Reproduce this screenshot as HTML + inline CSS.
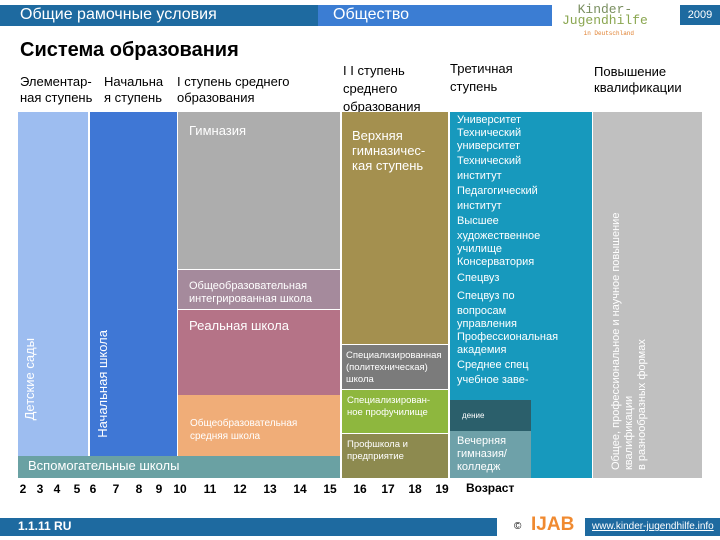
<!DOCTYPE html>
<html><head><meta charset="utf-8"><style>
body{margin:0;width:720px;height:540px;position:relative;overflow:hidden;background:#fff;font-family:"Liberation Sans","DejaVu Sans",sans-serif}
div{position:absolute;box-sizing:border-box}
.w{color:#fff}
.t{font-size:11px;line-height:13px}
.v{writing-mode:vertical-rl;transform:rotate(180deg)}
</style></head><body>
<div style="left:0;top:5px;width:318px;height:21px;background:#1e6aa0"></div>
<div class="w" style="left:20px;top:6px;font-size:16px">Общие рамочные условия</div>
<div style="left:318px;top:5px;width:234px;height:21px;background:#3b7dd3"></div>
<div class="w" style="left:333px;top:6px;font-size:16px">Общество</div>
<div style="left:562px;top:4px;font-family:'Liberation Mono',monospace;font-size:13px;line-height:11px;color:#7a8f60">&nbsp;&nbsp;Kinder-<br><span style="color:#8aa650">Jugendhilfe</span><br><span style="font-size:6px;color:#e08030">&nbsp;&nbsp;&nbsp;&nbsp;&nbsp;&nbsp;in Deutschland</span></div>
<div class="w" style="left:680px;top:5px;width:40px;height:20px;background:#1e6aa0;font-size:11px;text-align:center;line-height:20px">2009</div>
<div style="left:20px;top:39px;font-size:20px;font-weight:bold">Система образования</div>
<div style="left:20px;top:74px;font-size:13px;line-height:16px">Элементар-<br>ная ступень</div>
<div style="left:104px;top:74px;font-size:13px;line-height:16px">Начальна<br>я ступень</div>
<div style="left:177px;top:74px;font-size:13px;line-height:16px">I ступень среднего<br>образования</div>
<div style="left:343px;top:62px;font-size:13px;line-height:18px">I I ступень<br>среднего<br>образования</div>
<div style="left:450px;top:60px;font-size:13px;line-height:18px">Третичная<br>ступень</div>
<div style="left:594px;top:64px;font-size:13px;line-height:16px">Повышение<br>квалификации</div>

<div style="left:18px;top:112px;width:70px;height:344px;background:#9dbdf0"></div>
<div class="w v" style="left:22px;top:338px;font-size:13px">Детские сады</div>
<div style="left:90px;top:112px;width:87px;height:344px;background:#3f77d5"></div>
<div class="w v" style="left:95px;top:330px;font-size:13px">Начальная школа</div>
<div style="left:178px;top:112px;width:162px;height:157px;background:#adadad"></div>
<div class="w" style="left:189px;top:123px;font-size:13px">Гимназия</div>
<div class="w t" style="left:178px;top:270px;width:162px;height:39px;background:#a58a9c;padding:10px 0 0 11px;line-height:13px">Общеобразовательная<br>интегрированная школа</div>
<div class="w" style="left:178px;top:310px;width:162px;height:85px;background:#b57387;padding:8px 0 0 11px;font-size:13px">Реальная школа</div>
<div class="w" style="left:178px;top:395px;width:162px;height:61px;background:#f0ad78;padding:22px 0 0 12px;font-size:10px;line-height:13px">Общеобразовательная<br>средняя школа</div>
<div class="w" style="left:18px;top:456px;width:322px;height:22px;background:#6aa1a3;padding:2px 0 0 10px;font-size:13px">Вспомогательные школы</div>
<div class="w" style="left:342px;top:112px;width:106px;height:232px;background:#a4904f;padding:16px 0 0 10px;font-size:13px;line-height:15px">Верхняя<br>гимназичес-<br>кая ступень</div>
<div class="w" style="left:342px;top:345px;width:106px;height:44px;background:#7b7b7b;padding:5px 0 0 4px;font-size:9.5px;line-height:12px">Специализированная<br>(политехническая)<br>школа</div>
<div class="w" style="left:342px;top:390px;width:106px;height:43px;background:#8eb73e;padding:5px 0 0 5px;font-size:9.5px;line-height:12px">Специализирован-<br>ное профучилище</div>
<div class="w" style="left:342px;top:434px;width:106px;height:44px;background:#8d8a4f;padding:5px 0 0 5px;font-size:9.5px;line-height:12px">Профшкола и<br>предприятие</div>
<div class="w t" style="left:450px;top:112px;width:142px;height:366px;background:#1799bd;padding:2px 0 0 7px;line-height:13px">Университет<br>Технический<br>университет<br><span style="line-height:17px">Технический</span><br>институт<br><span style="line-height:17px">Педагогический</span><br>институт<br><span style="line-height:17px">Высшее</span><br>художественное<br>училище<br>Консерватория<br><span style="line-height:19px">Спецвуз</span><br><span style="line-height:17px">Спецвуз по</span><br>вопросам<br>управления<br>Профессиональная<br>академия<br><span style="line-height:17px">Среднее спец</span><br>учебное заве-</div>
<div class="w" style="left:450px;top:400px;width:81px;height:31px;background:#2b5f6b;padding:11px 0 0 12px;font-size:8px">дение</div>
<div class="w t" style="left:450px;top:431px;width:81px;height:47px;background:#6ea1a9;padding:4px 0 0 7px;line-height:13px">Вечерняя<br>гимназия/<br>колледж</div>
<div style="left:593px;top:112px;width:109px;height:366px;background:#c0c0c0"></div>
<div class="w v t" style="left:610px;top:120px;height:350px;line-height:13px;text-align:left">Общее, профессиональное и научное повышение<br>квалификации<br>в разнообразных формах</div>

<div id="axis" style="left:0;top:482px;width:720px;height:16px"></div>
<div style="left:466px;top:481px;font-size:12px;font-weight:bold">Возраст</div>

<div style="left:0;top:518px;width:497px;height:18px;background:#1e6aa0"></div>
<div class="w" style="left:18px;top:519px;font-size:12px;font-weight:bold">1.1.11 RU</div>
<div style="left:514px;top:521px;font-size:10px">©</div>
<div style="left:531px;top:514px;font-size:19px;font-weight:bold;color:#f08a30">IJAB</div>
<div style="left:585px;top:518px;width:135px;height:18px;background:#1e6aa0;color:#fff;font-size:10px;text-decoration:underline;padding:3px 0 0 7px">www.kinder-jugendhilfe.info</div>

<script>
const ages=[2,3,4,5,6,7,8,9,10,11,12,13,14,15,16,17,18,19];
const agePos=[23,40,57,77,93,116,139,159,180,210,240,270,300,330,360,388,415,442];
const ax=document.getElementById('axis');
ages.forEach((a,i)=>{
  const d=document.createElement('div');
  
  
  d.style.cssText='left:'+(agePos[i]-10)+'px;top:0;width:20px;text-align:center;font-size:12px;font-weight:bold';
  d.textContent=a;
  ax.appendChild(d);
});
</script>
</body></html>
